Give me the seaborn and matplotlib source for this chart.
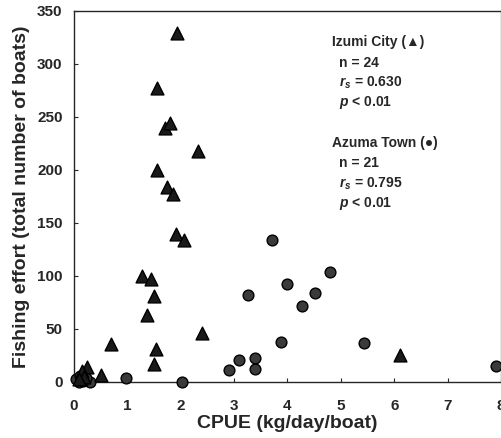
import matplotlib
matplotlib.use("Agg")
import matplotlib.pyplot as plt
import seaborn as sns
import pandas as pd

# Izumi City (triangles)
izumi_cpue = [1.94, 1.55, 1.71, 1.80, 2.32, 1.56, 1.75, 1.85, 1.92, 2.07,
              1.28, 1.45, 1.50, 1.38, 2.41, 1.54, 1.50, 0.69, 0.51, 6.10,
              0.25, 0.15, 0.20, 0.10]
izumi_effort = [329, 277, 240, 244, 218, 200, 184, 177, 140, 134,
                100, 97, 81, 63, 46, 31, 17, 36, 7, 25,
                14, 10, 5, 3]

# Azuma Town (circles)
azuma_cpue = [3.71, 4.79, 4.00, 4.52, 3.26, 4.27, 3.88, 3.09, 3.40, 2.90,
              3.40, 5.44, 7.91, 0.97, 2.02, 0.31, 0.09, 0.05, 0.12, 0.18, 0.22]
azuma_effort = [134, 104, 92, 84, 82, 72, 38, 21, 23, 11,
                12, 37, 15, 4, 0, 0, 0, 3, 6, 1, 4]

xticks = [0, 1, 2, 3, 4, 5, 6, 7, 8]
yticks = [0, 50, 100, 150, 200, 250, 300, 350]

df = pd.DataFrame({
    "cpue": izumi_cpue + azuma_cpue,
    "effort": izumi_effort + azuma_effort,
    "site": ["Izumi City"] * len(izumi_cpue) + ["Azuma Town"] * len(azuma_cpue),
})

sns.set_style("ticks")
plt.rcParams["font.family"] = ["Liberation Sans", "DejaVu Sans"]
plt.rcParams["mathtext.fontset"] = "custom"
plt.rcParams["mathtext.it"] = "Liberation Sans:italic:bold"
plt.rcParams["mathtext.rm"] = "Liberation Sans:bold"

fig = plt.figure(figsize=(5.02, 4.38), dpi=100)
ax = fig.add_axes([0.147, 0.128, 0.851, 0.847])

sns.scatterplot(data=df[df.site == "Azuma Town"], x="cpue", y="effort", ax=ax,
                marker="o", s=60, color="#3a3a3a", edgecolor="black",
                linewidth=1.0, clip_on=False, legend=False, zorder=3)
sns.scatterplot(data=df[df.site == "Izumi City"], x="cpue", y="effort", ax=ax,
                marker="^", s=85, color="#1a1a1a", edgecolor="black",
                linewidth=1.0, clip_on=False, legend=False, zorder=4)

ax.set_xlim(0, 8)
ax.set_ylim(0, 350)
ax.set_xticks(xticks)
ax.set_yticks(yticks)
ax.set_xticklabels([str(v) for v in xticks], fontsize=11, fontweight="bold")
ax.set_yticklabels([str(v) for v in yticks], fontsize=11, fontweight="bold")
ax.tick_params(direction="in", length=3, width=0.8)
ax.tick_params(axis="x", pad=12)
ax.tick_params(axis="y", pad=8)
for sp in ax.spines.values():
    sp.set_linewidth(1.0)
    sp.set_visible(True)
ax.spines["right"].set_color("#888888")

ax.set_xlabel("CPUE (kg/day/boat)", fontsize=14, fontweight="bold", labelpad=2)
ax.set_ylabel("Fishing effort (total number of boats)", fontsize=14,
              fontweight="bold", labelpad=5)

tx = 0.605
fs = 10
ax.text(tx, 0.915, "Izumi City (▲)", transform=ax.transAxes, fontsize=fs,
        fontweight="bold", va="center")
ax.text(tx + 0.015, 0.861, "n = 24", transform=ax.transAxes, fontsize=fs,
        fontweight="bold", va="center")
ax.text(tx + 0.015, 0.807, r"$r_s$ = 0.630", transform=ax.transAxes, fontsize=fs,
        fontweight="bold", va="center")
ax.text(tx + 0.015, 0.753, r"$p$ < 0.01", transform=ax.transAxes, fontsize=fs,
        fontweight="bold", va="center")
ax.text(tx, 0.643, "Azuma Town (●)", transform=ax.transAxes, fontsize=fs,
        fontweight="bold", va="center")
ax.text(tx + 0.015, 0.589, "n = 21", transform=ax.transAxes, fontsize=fs,
        fontweight="bold", va="center")
ax.text(tx + 0.015, 0.535, r"$r_s$ = 0.795", transform=ax.transAxes, fontsize=fs,
        fontweight="bold", va="center")
ax.text(tx + 0.015, 0.481, r"$p$ < 0.01", transform=ax.transAxes, fontsize=fs,
        fontweight="bold", va="center")

fig.savefig("out.png", dpi=100)
